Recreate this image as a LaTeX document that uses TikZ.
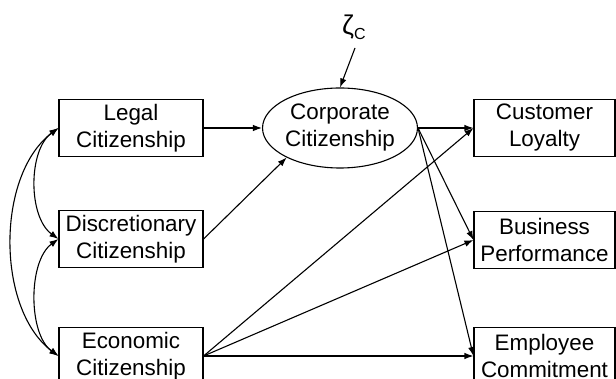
\documentclass[tikz,border=0pt]{standalone}
\usepackage{fontspec}
\setmainfont{Liberation Sans}
\usetikzlibrary{arrows.meta,shapes.geometric}
\begin{document}
\begin{tikzpicture}[x=1pt,y=-1pt,
  txt/.style={font=\fontsize{22.4}{27}\selectfont,align=center,inner sep=0pt},
  lbox/.style={txt,draw,line width=1.1pt,minimum width=144pt,minimum height=57pt},
  rbox/.style={txt,draw,line width=1.1pt,minimum width=141pt,minimum height=57pt},
  lat/.style={txt,draw,ellipse,line width=1.1pt,minimum width=145pt,minimum height=80pt},
  arr/.style={line width=1.1pt,-{Latex[length=9pt,width=6.5pt]}},
  darr/.style={line width=1.1pt,{Latex[length=9pt,width=6.5pt]}-{Latex[length=9pt,width=6.5pt]}},
  ]
\useasboundingbox (0,0) rectangle (616,379);
\clip (0,0) rectangle (616,379);
\node[lbox] (legal) at (131,128) {Legal\\Citizenship};
\node[lbox] (disc) at (131,239) {Discretionary\\Citizenship};
\node[lbox] (econ) at (131,356) {Economic\\Citizenship};
\node[lat] (cc) at (340,128) {Corporate\\Citizenship};
\node[rbox] (cust) at (544.5,128) {Customer\\Loyalty};
\node[rbox] (bus) at (544.5,240) {Business\\Performance};
\node[rbox] (emp) at (544.5,356) {Employee\\Commitment};
\node[txt,anchor=base west] (zeta) at (342,35) {\fontsize{27}{27}\selectfont ζ\raisebox{-5pt}{\fontsize{16}{16}\selectfont C}};
\coordinate (zs) at (355,48);
% paths
\draw[arr] (zs) -- (cc.north);
\draw[arr] (legal.east) -- (cc.west);
\draw[arr] (disc.east) -- (cc.209);
\draw[arr] (cc.east) -- (cust.west);
\draw[arr] (cc.east) -- (bus.west);
\draw[arr] (cc.east) -- (emp.west);
\draw[arr] (econ.east) -- (cust.west);
\draw[arr] (econ.east) -- (bus.west);
\draw[arr] (econ.east) -- (emp.west);
% correlations
\draw[darr] (legal.west) .. controls (28,150) and (28,217) .. (disc.west);
\draw[darr] (disc.west) .. controls (28,261) and (28,334) .. (econ.west);
\draw[darr] (legal.west) .. controls (-4,175) and (-4,309) .. (econ.west);
\end{tikzpicture}
\end{document}
